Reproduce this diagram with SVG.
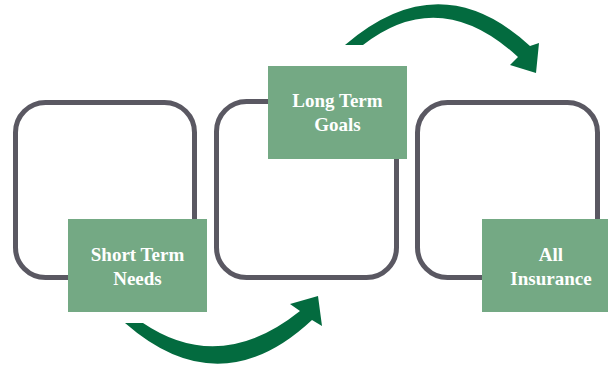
<svg xmlns="http://www.w3.org/2000/svg" width="608" height="367" viewBox="0 0 608 367">
<style>
.frame{fill:none;stroke:#5a5862;stroke-width:5}
.tag{fill:#74a984}
.lbl{fill:#ffffff;font-family:"Liberation Serif",serif;font-weight:bold;font-size:19px;text-anchor:middle}
.arrow{fill:#036b3f}
</style>
<rect width="608" height="367" fill="#ffffff"/>
<g id="connectors">
<path class="arrow" d="M125,323 Q220,406 312,320 L322,326 L318,296 L290,304 L300,311 Q220,375 143,323 Z"/>
<path class="arrow" d="M345,45 Q440,-37 530,46 L539,43 L536,73 L510,65 L518,57 Q440,-15 363,45 Z"/>
</g>
<g id="node-short">
<rect class="frame" x="15.5" y="102.5" width="179" height="175" rx="30"/>
<rect class="tag" x="68" y="219" width="139" height="93"/>
<text class="lbl" x="137.5" y="261">Short Term</text>
<text class="lbl" x="137.5" y="285">Needs</text>
</g>
<g id="node-long">
<rect class="frame" x="216.5" y="101.5" width="180" height="176" rx="30"/>
<rect class="tag" x="268" y="66" width="139" height="93"/>
<text class="lbl" x="337.5" y="107">Long Term</text>
<text class="lbl" x="337.5" y="131">Goals</text>
</g>
<g id="node-all">
<rect class="frame" x="417.5" y="102.5" width="180" height="175" rx="30"/>
<rect class="tag" x="482" y="219" width="139" height="93"/>
<text class="lbl" x="551" y="261">All</text>
<text class="lbl" x="551" y="285">Insurance</text>
</g>
</svg>
